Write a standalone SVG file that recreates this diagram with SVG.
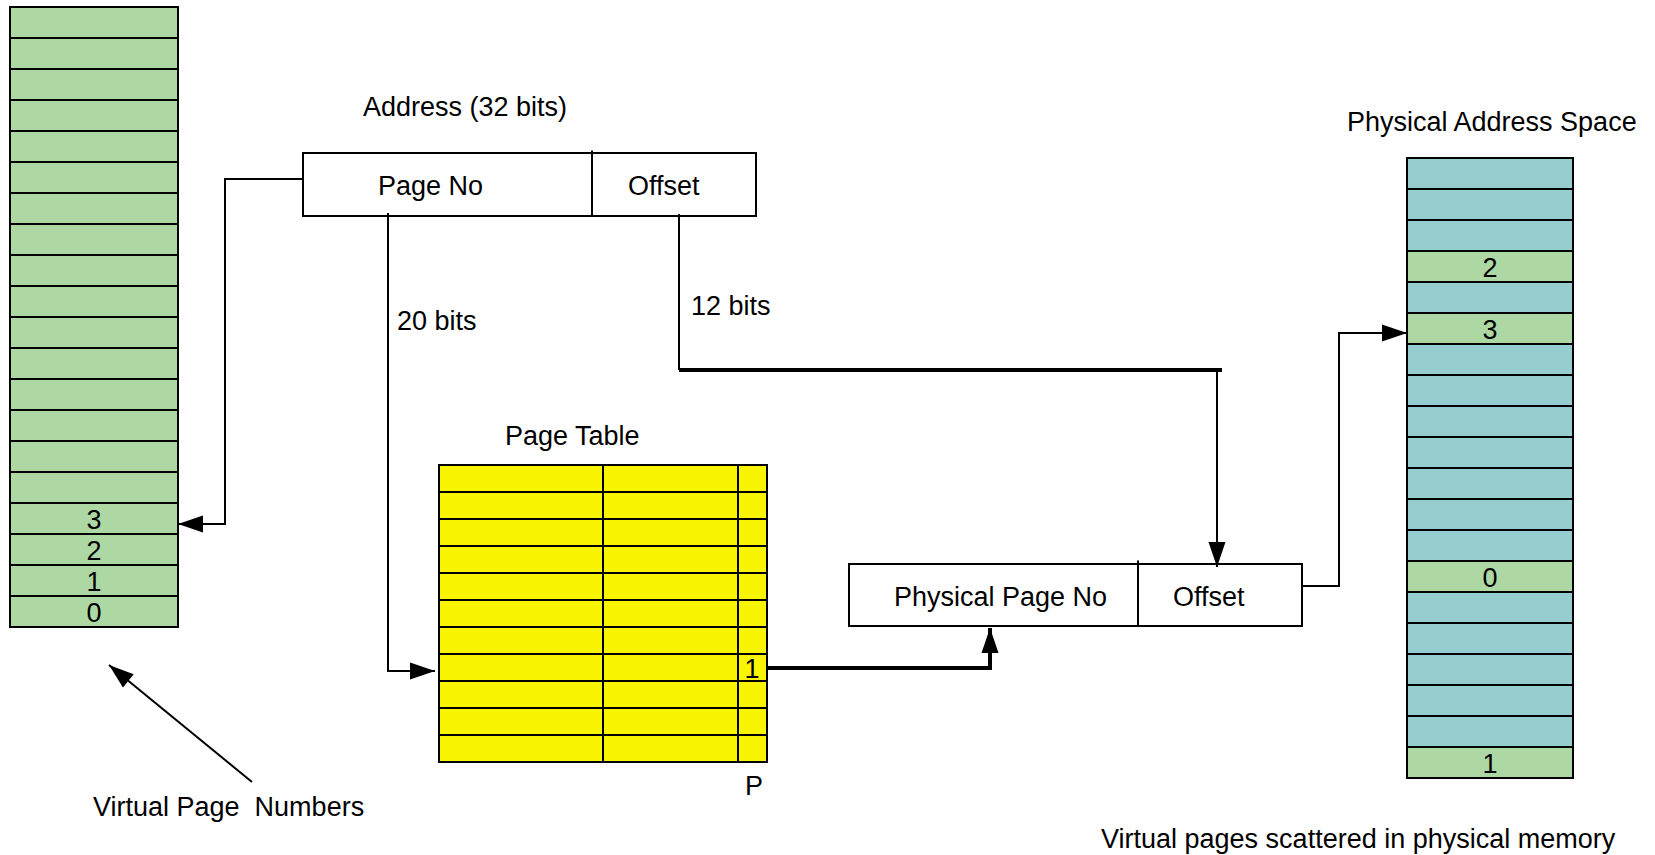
<svg xmlns="http://www.w3.org/2000/svg" width="1655" height="855" viewBox="0 0 1655 855">
  <style>
    text { font-family: "Liberation Sans", Arial, sans-serif; font-size: 27px; fill: #000; }
    .mid { text-anchor: middle; }
    .cell { stroke: #000; stroke-width: 2; }
    .green { fill: #ADD8A4; }
    .teal { fill: #96CED0; }
    .yellow { fill: #F9F400; }
    .box { fill: #fff; stroke: #000; stroke-width: 2; }
    .rule { stroke: #000; stroke-width: 2; }
    .wire { fill: none; stroke: #000; stroke-width: 2; }
    .bus { fill: none; stroke: #000; stroke-width: 4; }
  </style>
  <defs>
    <marker id="arrow" markerUnits="userSpaceOnUse" markerWidth="25" markerHeight="17" refX="25" refY="8.5" orient="auto" overflow="visible">
      <path d="M0,0 L25,8.5 L0,17 Z" fill="#000"/>
    </marker>
  </defs>

  <rect width="1655" height="855" fill="#fff"/>

  <!-- Virtual address space: 20 pages, lowest four numbered -->
  <g id="virtual-space">
    <rect class="cell green" x="10" y="7" width="168" height="31"/>
    <rect class="cell green" x="10" y="38" width="168" height="31"/>
    <rect class="cell green" x="10" y="69" width="168" height="31"/>
    <rect class="cell green" x="10" y="100" width="168" height="31"/>
    <rect class="cell green" x="10" y="131" width="168" height="31"/>
    <rect class="cell green" x="10" y="162" width="168" height="31"/>
    <rect class="cell green" x="10" y="193" width="168" height="31"/>
    <rect class="cell green" x="10" y="224" width="168" height="31"/>
    <rect class="cell green" x="10" y="255" width="168" height="31"/>
    <rect class="cell green" x="10" y="286" width="168" height="31"/>
    <rect class="cell green" x="10" y="317" width="168" height="31"/>
    <rect class="cell green" x="10" y="348" width="168" height="31"/>
    <rect class="cell green" x="10" y="379" width="168" height="31"/>
    <rect class="cell green" x="10" y="410" width="168" height="31"/>
    <rect class="cell green" x="10" y="441" width="168" height="31"/>
    <rect class="cell green" x="10" y="472" width="168" height="31"/>
    <rect class="cell green" x="10" y="503" width="168" height="31"/>
    <rect class="cell green" x="10" y="534" width="168" height="31"/>
    <rect class="cell green" x="10" y="565" width="168" height="31"/>
    <rect class="cell green" x="10" y="596" width="168" height="31"/>
    <text class="mid" x="94" y="529">3</text>
    <text class="mid" x="94" y="560">2</text>
    <text class="mid" x="94" y="591">1</text>
    <text class="mid" x="94" y="622">0</text>
  </g>

  <g id="virtual-label">
    <text x="93" y="816" style="white-space:pre">Virtual Page  Numbers</text>
  </g>

  <!-- 32-bit virtual address -->
  <g id="address">
    <text x="363" y="116">Address (32 bits)</text>
    <rect class="box" x="303" y="153" width="453" height="63"/>
    <line class="rule" x1="592" y1="150.5" x2="592" y2="216"/>
    <text x="378" y="195">Page No</text>
    <text x="628" y="195">Offset</text>
  </g>

  <!-- Page table: frame, extra bits, present bit -->
  <g id="page-table">
    <text x="505" y="445">Page Table</text>
    <rect class="cell yellow" x="439" y="465" width="328" height="27"/>
    <rect class="cell yellow" x="439" y="492" width="328" height="27"/>
    <rect class="cell yellow" x="439" y="519" width="328" height="27"/>
    <rect class="cell yellow" x="439" y="546" width="328" height="27"/>
    <rect class="cell yellow" x="439" y="573" width="328" height="27"/>
    <rect class="cell yellow" x="439" y="600" width="328" height="27"/>
    <rect class="cell yellow" x="439" y="627" width="328" height="27"/>
    <rect class="cell yellow" x="439" y="654" width="328" height="27"/>
    <rect class="cell yellow" x="439" y="681" width="328" height="27"/>
    <rect class="cell yellow" x="439" y="708" width="328" height="27"/>
    <rect class="cell yellow" x="439" y="735" width="328" height="27"/>
    <line class="rule" x1="603" y1="465" x2="603" y2="762"/>
    <line class="rule" x1="738" y1="465" x2="738" y2="762"/>
    <text class="mid" x="752" y="678">1</text>
    <text x="745" y="795">P</text>
  </g>

  <!-- Physical address -->
  <g id="physical-address">
    <rect class="box" x="849" y="564" width="453" height="62"/>
    <line class="rule" x1="1138" y1="560.5" x2="1138" y2="626"/>
    <text x="894" y="606">Physical Page No</text>
    <text x="1173" y="606">Offset</text>
  </g>

  <!-- Physical memory: 20 frames, some holding virtual pages -->
  <g id="physical-space">
    <text x="1347" y="131">Physical Address Space</text>
    <rect class="cell teal" x="1407" y="158" width="166" height="31"/>
    <rect class="cell teal" x="1407" y="189" width="166" height="31"/>
    <rect class="cell teal" x="1407" y="220" width="166" height="31"/>
    <rect class="cell green" x="1407" y="251" width="166" height="31"/>
    <rect class="cell teal" x="1407" y="282" width="166" height="31"/>
    <rect class="cell green" x="1407" y="313" width="166" height="31"/>
    <rect class="cell teal" x="1407" y="344" width="166" height="31"/>
    <rect class="cell teal" x="1407" y="375" width="166" height="31"/>
    <rect class="cell teal" x="1407" y="406" width="166" height="31"/>
    <rect class="cell teal" x="1407" y="437" width="166" height="31"/>
    <rect class="cell teal" x="1407" y="468" width="166" height="31"/>
    <rect class="cell teal" x="1407" y="499" width="166" height="31"/>
    <rect class="cell teal" x="1407" y="530" width="166" height="31"/>
    <rect class="cell green" x="1407" y="561" width="166" height="31"/>
    <rect class="cell teal" x="1407" y="592" width="166" height="31"/>
    <rect class="cell teal" x="1407" y="623" width="166" height="31"/>
    <rect class="cell teal" x="1407" y="654" width="166" height="31"/>
    <rect class="cell teal" x="1407" y="685" width="166" height="31"/>
    <rect class="cell teal" x="1407" y="716" width="166" height="31"/>
    <rect class="cell green" x="1407" y="747" width="166" height="31"/>
    <text class="mid" x="1490" y="277">2</text>
    <text class="mid" x="1490" y="339">3</text>
    <text class="mid" x="1490" y="587">0</text>
    <text class="mid" x="1490" y="773">1</text>
  </g>

  <g id="physical-label">
    <text x="1101" y="848">Virtual pages scattered in physical memory</text>
  </g>

  <!-- Connectors -->
  <g id="connectors">
    <polyline class="wire" points="303,179 225,179 225,524 178,524" marker-end="url(#arrow)"/>
    <polyline class="wire" points="388,213 388,671 435,671" marker-end="url(#arrow)"/>
    <text x="397" y="330">20 bits</text>
    <polyline class="wire" points="679,214 679,370"/>
    <text x="691" y="315">12 bits</text>
    <line class="bus" x1="679" y1="370" x2="1222" y2="370"/>
    <polyline class="wire" points="1217,370 1217,567" marker-end="url(#arrow)"/>
    <polyline class="bus" points="767,668 990,668 990,628" marker-end="url(#arrow)"/>
    <polyline class="wire" points="1302,586 1339,586 1339,333 1407,333" marker-end="url(#arrow)"/>
    <line class="wire" x1="252" y1="782" x2="109" y2="665" marker-end="url(#arrow)"/>
  </g>
</svg>
